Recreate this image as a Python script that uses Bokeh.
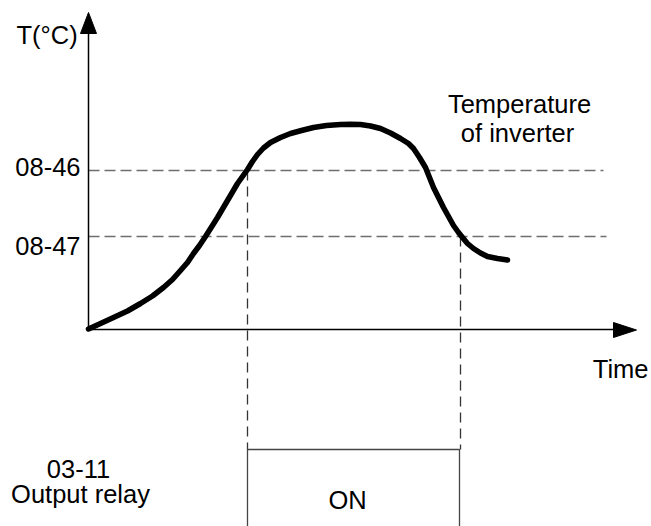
from bokeh.plotting import figure
from bokeh.models import Range1d
from bokeh.core.properties import value
from bokeh.embed import file_html
from bokeh.resources import INLINE

# ---- data (diagram units: x = time, y = drawing position; y grows downward) ----
temp_x = [88, 100, 113, 127, 140, 152, 163, 172, 180, 187,
          193, 199, 205, 211, 217, 222, 227, 232, 237, 242,
          247, 252, 257, 263, 270, 280, 290, 301, 313, 326,
          340, 350, 360, 370, 380, 390, 400, 408, 413, 419,
          425, 429, 433, 438, 443, 448, 453, 458, 462, 467,
          473, 480, 487, 497, 507]
temp_y = [328.5, 323, 317, 310.5, 303, 295.5, 287, 279, 270, 262,
          253, 245, 236, 226.5, 217, 208.5, 200, 191.5, 183, 176,
          169, 161, 154, 147.5, 142, 137, 133, 130, 127, 125,
          124, 123.8, 124, 125.5, 128, 132.5, 138, 143, 148, 157,
          167, 177, 187, 197, 207, 216, 225, 232, 237, 243,
          248, 252.5, 256, 258, 259.5]

threshold_labels = ["08-46", "08-47"]
threshold_y = [170, 236]
threshold_x_end = [603, 606]

relay_on_start = 247
relay_on_end = 460
relay_top = 449
relay_bottom = 530

origin_x, origin_y = 88, 329
x_axis_end = 614
y_axis_end = 32

# arrow heads
y_arrow_xs = [80, 96, 88]
y_arrow_ys = [33, 33, 12]
x_arrow_xs = [613, 613, 636]
x_arrow_ys = [322, 337, 329.5]

FONT = value("Liberation Sans")
FS = "25.5px"

W, H = 651, 526
p = figure(width=W, height=H, output_backend="svg", toolbar_location=None,
           x_range=Range1d(0, W), y_range=Range1d(H, 0),
           min_border=0, min_border_left=0, min_border_right=0,
           min_border_top=0, min_border_bottom=0)
p.axis.visible = False
p.grid.visible = False
p.outline_line_color = None
p.background_fill_color = "white"
p.border_fill_color = "white"

# threshold dashed lines
for ty, xe in zip(threshold_y, threshold_x_end):
    p.line([origin_x, xe], [ty, ty], line_color="#6e6e6e", line_width=1.6,
           line_dash="11 5")

# vertical dashed lines
p.line([relay_on_start, relay_on_start], [threshold_y[0], relay_top],
       line_color="#333333", line_width=1.3, line_dash="10 6")
p.line([relay_on_end, relay_on_end], [threshold_y[1], relay_top],
       line_color="#333333", line_width=1.3, line_dash="10 6")

# relay box
p.line([relay_on_start, relay_on_start, relay_on_end - 1, relay_on_end - 1],
       [relay_bottom, relay_top, relay_top, relay_bottom],
       line_color="#444444", line_width=1.3)

# axes
p.line([origin_x, origin_x], [origin_y, y_axis_end], line_color="black", line_width=1.5)
p.line([origin_x, x_axis_end], [origin_y, origin_y], line_color="black", line_width=1.5)
p.patch(y_arrow_xs, y_arrow_ys, fill_color="black", line_color="black")
p.patch(x_arrow_xs, x_arrow_ys, fill_color="black", line_color="black")

# temperature curve
p.line(temp_x, temp_y, line_color="black", line_width=5.5,
       line_cap="round", line_join="round")

# texts
p.text(x=[16], y=[34], text=["T(°C)"], text_font=FONT, text_font_size=FS,
       text_align="left", text_baseline="alphabetic", text_color="black")
p.text(x=[80, 80], y=[166, 245], text=threshold_labels, text_font=FONT,
       text_font_size=FS, text_align="right", text_baseline="alphabetic",
       text_color="black")
p.text(x=[519, 517], y=[103, 132], text=["Temperature", "of inverter"],
       text_font=FONT, text_font_size=FS, text_align="center",
       text_baseline="alphabetic", text_color="black")
p.text(x=[648], y=[368], text=["Time"], text_font=FONT, text_font_size=FS,
       text_align="right", text_baseline="alphabetic", text_color="black")
p.text(x=[78, 80], y=[468, 493], text=["03-11", "Output relay"], text_font=FONT,
       text_font_size=FS, text_align="center", text_baseline="alphabetic",
       text_color="black")
p.text(x=[347], y=[499], text=["ON"], text_font=FONT, text_font_size=FS,
       text_align="center", text_baseline="alphabetic", text_color="black")

open("out.html", "w").write(file_html(p, INLINE))
